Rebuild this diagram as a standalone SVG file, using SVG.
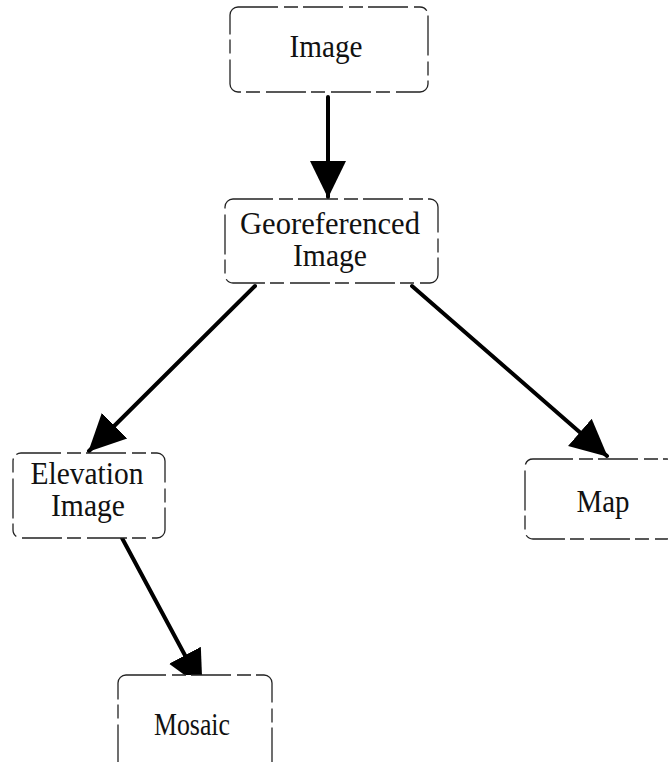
<svg xmlns="http://www.w3.org/2000/svg" width="668" height="762" viewBox="0 0 668 762">
<style>
.box{fill:#fff;stroke:#222;stroke-width:1.3;stroke-dasharray:40 6 14 5}
.lbl{font-family:"Liberation Serif","Times New Roman",serif;font-size:31px;fill:#111;text-anchor:middle}
.edge{stroke:#000;stroke-width:4;fill:none;stroke-linecap:round}
</style>
<defs>
<marker id="ah" markerUnits="userSpaceOnUse" markerWidth="38" markerHeight="38" viewBox="0 0 38 38" refX="36" refY="19" orient="auto">
<path d="M0,1 L37,19 L0,37 Z" fill="#000"/>
</marker>
</defs>
<rect width="668" height="762" fill="#fff"/>
<g id="edges">
<line class="edge" x1="328" y1="97" x2="328" y2="197" marker-end="url(#ah)"/>
<line class="edge" x1="255" y1="286" x2="89" y2="451" marker-end="url(#ah)"/>
<line class="edge" x1="412" y1="286" x2="607" y2="456" marker-end="url(#ah)"/>
<line class="edge" x1="122" y1="538" x2="202" y2="687" marker-end="url(#ah)"/>
</g>
<g id="n-image">
<rect class="box" x="230" y="7" width="198" height="85" rx="8"/>
<text class="lbl" x="326" y="57" textLength="73" lengthAdjust="spacingAndGlyphs">Image</text>
</g>
<g id="n-georef">
<rect class="box" x="225" y="199" width="213" height="84" rx="8"/>
<text class="lbl" x="330" y="234" textLength="180" lengthAdjust="spacingAndGlyphs">Georeferenced</text>
<text class="lbl" x="330" y="266" textLength="74" lengthAdjust="spacingAndGlyphs">Image</text>
</g>
<g id="n-elevation">
<rect class="box" x="13" y="453" width="152" height="85" rx="8"/>
<text class="lbl" x="87" y="484" textLength="113" lengthAdjust="spacingAndGlyphs">Elevation</text>
<text class="lbl" x="88" y="516" textLength="74" lengthAdjust="spacingAndGlyphs">Image</text>
</g>
<g id="n-map">
<rect class="box" x="525" y="459" width="150" height="80" rx="8"/>
<text class="lbl" x="603" y="512" textLength="53" lengthAdjust="spacingAndGlyphs">Map</text>
</g>
<g id="n-mosaic">
<rect class="box" x="118" y="675" width="154" height="95" rx="8"/>
<text class="lbl" x="192" y="735" textLength="76" lengthAdjust="spacingAndGlyphs">Mosaic</text>
</g>
</svg>
